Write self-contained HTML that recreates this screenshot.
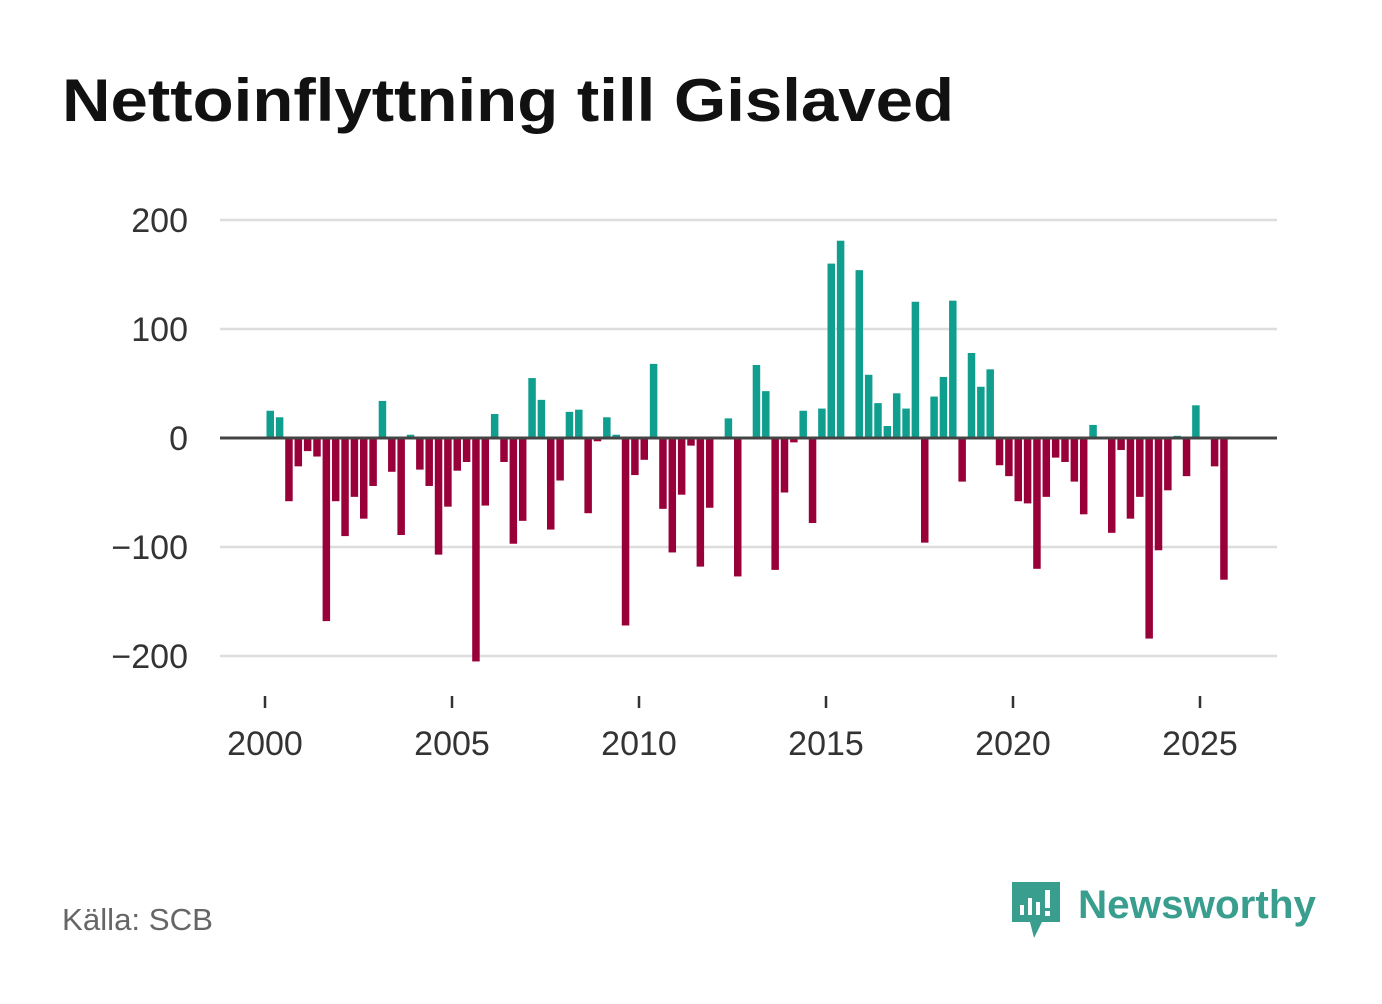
<!DOCTYPE html>
<html><head><meta charset="utf-8"><style>
body{margin:0;background:#fff;width:1382px;height:999px;overflow:hidden;font-family:"Liberation Sans",sans-serif;}
</style></head><body>
<svg width="1382" height="999">
<text x="62" y="121" font-size="60" font-weight="bold" fill="#111" textLength="892" lengthAdjust="spacingAndGlyphs">Nettoinflyttning till Gislaved</text>
<g id="grid"></g><g id="bars"></g><g id="axes"></g>
<text x="62" y="930" font-size="31" fill="#666" textLength="151" lengthAdjust="spacingAndGlyphs">Källa: SCB</text>
<g>
<path d="M1012 882 h48 v40 h-18 l-8 16 l-4 -16 h-18 z" fill="#3a9e8f"/>
<rect x="1020" y="905" width="4" height="10" fill="#fff"/><rect x="1028" y="898" width="4" height="17" fill="#fff"/><rect x="1036" y="902" width="4" height="13" fill="#fff"/><rect x="1045" y="890" width="5" height="18" fill="#fff"/><rect x="1045" y="911" width="5" height="5" fill="#fff"/>
<text x="1078" y="918" font-size="40" font-weight="bold" fill="#3a9e8f" textLength="238" lengthAdjust="spacingAndGlyphs">Newsworthy</text>
</g>
</svg>
<script>
const values=[25,19,-58,-26,-12,-17,-168,-58,-90,-54,-74,-44,34,-31,-89,3,-29,-44,-107,-63,-30,-22,-205,-62,22,-22,-97,-76,55,35,-84,-39,24,26,-69,-3,19,3,-172,-34,-20,68,-65,-105,-52,-7,-118,-64,0,18,-127,0,67,43,-121,-50,-4,25,-78,27,160,181,0,154,58,32,11,41,27,125,-96,38,56,126,-40,78,47,63,-25,-35,-58,-60,-120,-54,-18,-22,-40,-70,12,0,-87,-11,-74,-54,-184,-103,-48,2,-35,30,0,-26,-130];
const startYear=2000;
const yTicks=[200,100,0,-100,-200];
const xTicks=[2000,2005,2010,2015,2020,2025];
const NS="http://www.w3.org/2000/svg";
const xs=y=>265+(y-2000)*37.4;
const ys=v=>438-v*1.09;
function mk(tag,a,p){const e=document.createElementNS(NS,tag);for(const k in a)e.setAttribute(k,a[k]);p.appendChild(e);return e;}
const grid=document.getElementById('grid'),bars=document.getElementById('bars'),axes=document.getElementById('axes');
yTicks.forEach(t=>{
 const l=mk('line',{x1:220,x2:1277,y1:ys(t),y2:ys(t),stroke:'#ddd','stroke-width':2.5},grid);
 
 
 const tx=mk('text',{x:188,y:ys(t)+12,'font-size':34,fill:'#333','text-anchor':'end'},grid);
 tx.textContent=t<0?'\u2212'+(-t):String(t);
 
 
});
values.forEach((v,i)=>{
 const x0=xs(startYear+i/4)+1.5;
 const r=mk('rect',{x:x0,width:7.5,y:Math.min(ys(v),ys(0)),height:Math.abs(ys(v)-ys(0)),fill:v>=0?'#109f8f':'#99003a'},bars);
 
 
});
const z=mk('line',{x1:220,x2:1277,y1:ys(0),y2:ys(0),stroke:'#444','stroke-width':3},axes);


xTicks.forEach(t=>{
 const l=mk('line',{x1:xs(t),x2:xs(t),y1:696,y2:708,stroke:'#333','stroke-width':2.5},axes);
 
 
 const tx=mk('text',{x:xs(t),y:755,'font-size':34,fill:'#333','text-anchor':'middle'},axes);
 tx.textContent=String(t);
 
 
});
</script>
</body></html>
